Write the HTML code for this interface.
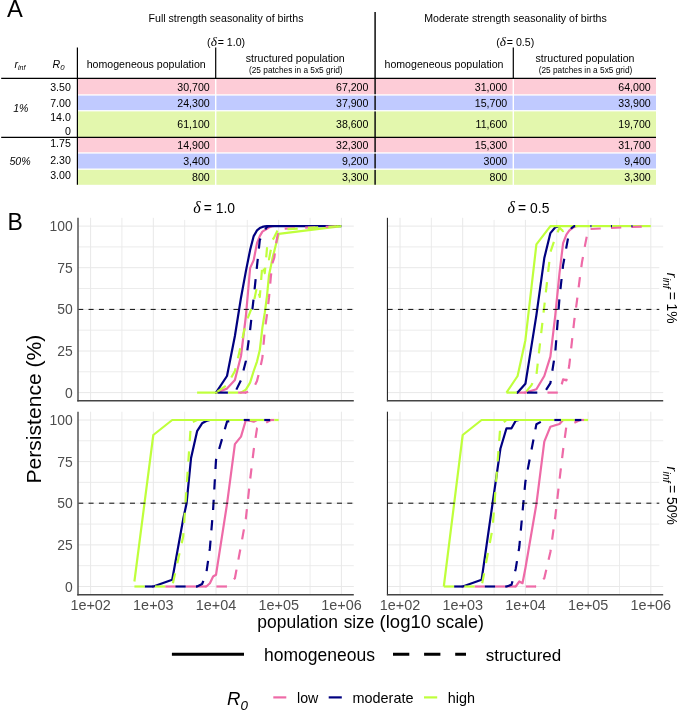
<!DOCTYPE html>
<html lang="en">
<head>
<meta charset="utf-8">
<title>Figure</title>
<style>
html,body{margin:0;padding:0;background:#fff;}
body{width:685px;height:714px;overflow:hidden;}
svg{display:block;font-family:"Liberation Sans", sans-serif;}
text{fill:#000;}
.h{font-size:10.6px;}
.n{font-size:10.6px;text-anchor:end;}
.tick{font-size:13.9px;fill:#4d4d4d;}
.grid line{stroke:#e8e8e8;stroke-width:1;}
.gridm line{stroke:#eaeaea;stroke-width:0.9;}
.c{fill:none;stroke-width:2.2;stroke-linejoin:round;}
.lo{stroke:#ee6aa7;}
.mo{stroke:#000080;}
.hi{stroke:#bfff3b;}
.d{stroke-dasharray:10.25 10.25;}
</style>
</head>
<body>
<svg width="685" height="714" viewBox="0 0 685 714">
<rect width="685" height="714" fill="#fff"/>

<g id="table">
<text x="7.1" y="16.7" font-size="23.7">A</text>
<rect x="77.4" y="78.4" width="578.6" height="15.9" fill="#fdccd7"/>
<rect x="77.4" y="95.6" width="578.6" height="14.5" fill="#c0caff"/>
<rect x="77.4" y="111.4" width="578.6" height="26.0" fill="#e3f7ad"/>
<rect x="77.4" y="137.4" width="578.6" height="14.9" fill="#fdccd7"/>
<rect x="77.4" y="153.6" width="578.6" height="14.9" fill="#c0caff"/>
<rect x="77.4" y="169.8" width="578.6" height="15.0" fill="#e3f7ad"/>
<rect x="215.0" y="78.4" width="1.4" height="106.6" fill="#fff"/>
<rect x="512.6" y="78.4" width="1.4" height="106.6" fill="#fff"/>
<g stroke="#000" stroke-width="1.2" fill="none">
<line x1="375.1" y1="12" x2="375.1" y2="184.8" stroke-width="1.55" stroke="#151515"/>
</g>
<rect x="373.5" y="94.3" width="3.2" height="1.3" fill="#fff"/>
<rect x="373.5" y="110.1" width="3.2" height="1.3" fill="#fff"/>
<rect x="373.5" y="152.3" width="3.2" height="1.3" fill="#fff"/>
<rect x="373.5" y="168.5" width="3.2" height="1.3" fill="#fff"/>
<g stroke="#000" stroke-width="1.2" fill="none">
<line x1="1.2" y1="78.4" x2="656" y2="78.4"/>
<line x1="1.2" y1="137.4" x2="656" y2="137.4"/>
<line x1="77.4" y1="47.5" x2="77.4" y2="184.8"/>
<line x1="215.7" y1="47.5" x2="215.7" y2="78.4"/>
<line x1="513.3" y1="47.5" x2="513.3" y2="78.4"/>
</g>
<text class="h" x="226" y="22.4" text-anchor="middle">Full strength seasonality of births</text>
<text class="h" x="515.5" y="22.4" text-anchor="middle">Moderate strength seasonality of births</text>
<text class="h" x="226.1" y="45.5" text-anchor="middle">(<tspan font-family="'Liberation Serif', serif" font-style="italic" font-size="13.4">δ</tspan><tspan dx="0.8">= 1.0)</tspan></text>
<text class="h" x="515.2" y="45.5" text-anchor="middle">(<tspan font-family="'Liberation Serif', serif" font-style="italic" font-size="13.4">δ</tspan><tspan dx="0.8">= 0.5)</tspan></text>
<text class="h" x="146.2" y="67.5" text-anchor="middle">homogeneous population</text>
<text class="h" x="444" y="67.5" text-anchor="middle">homogeneous population</text>
<text class="h" x="295.3" y="61.6" text-anchor="middle">structured population</text>
<text class="h" x="585" y="61.6" text-anchor="middle">structured population</text>
<text x="295.8" y="73.4" font-size="8.3" text-anchor="middle">(25 patches in a 5x5 grid)</text>
<text x="585.5" y="73.4" font-size="8.3" text-anchor="middle">(25 patches in a 5x5 grid)</text>
<text class="h" x="14.5" y="67.5" font-style="italic">r<tspan font-size="7" dy="2.2">inf</tspan></text>
<text class="h" x="52.5" y="67.5" font-style="italic">R<tspan font-size="7.8" dy="2.6">0</tspan></text>
<text class="h" x="20.8" y="111.7" text-anchor="middle" font-style="italic">1%</text>
<text class="h" x="20" y="165" text-anchor="middle" font-style="italic">50%</text>
<text class="n" x="70.8" y="90.8">3.50</text>
<text class="n" x="70.8" y="106.9">7.00</text>
<text class="n" x="70.8" y="121.4">14.0</text>
<text class="n" x="70.8" y="135.1">0</text>
<text class="n" x="70.8" y="147.3">1.75</text>
<text class="n" x="70.8" y="163.6">2.30</text>
<text class="n" x="70.8" y="179.4">3.00</text>
<text class="n" x="209.7" y="90.5">30,700</text>
<text class="n" x="368.4" y="90.5">67,200</text>
<text class="n" x="507.2" y="90.5">31,000</text>
<text class="n" x="650.7" y="90.5">64,000</text>
<text class="n" x="209.7" y="107.4">24,300</text>
<text class="n" x="368.4" y="107.4">37,900</text>
<text class="n" x="507.2" y="107.4">15,700</text>
<text class="n" x="650.7" y="107.4">33,900</text>
<text class="n" x="209.7" y="127.8">61,100</text>
<text class="n" x="368.4" y="127.8">38,600</text>
<text class="n" x="507.2" y="127.8">11,600</text>
<text class="n" x="650.7" y="127.8">19,700</text>
<text class="n" x="209.7" y="149.0">14,900</text>
<text class="n" x="368.4" y="149.0">32,300</text>
<text class="n" x="507.2" y="149.0">15,300</text>
<text class="n" x="650.7" y="149.0">31,700</text>
<text class="n" x="209.7" y="165.3">3,400</text>
<text class="n" x="368.4" y="165.3">9,200</text>
<text class="n" x="507.2" y="165.3">3000</text>
<text class="n" x="650.7" y="165.3">9,400</text>
<text class="n" x="209.7" y="181.1">800</text>
<text class="n" x="368.4" y="181.1">3,300</text>
<text class="n" x="507.2" y="181.1">800</text>
<text class="n" x="650.7" y="181.1">3,300</text>
</g>
<g id="plots">
<text x="7.5" y="230.4" font-size="23">B</text>
<g class="panel">
<g class="gridm">
<line x1="121.9" y1="217.8" x2="121.9" y2="400.8"/>
<line x1="184.7" y1="217.8" x2="184.7" y2="400.8"/>
<line x1="247.3" y1="217.8" x2="247.3" y2="400.8"/>
<line x1="310.1" y1="217.8" x2="310.1" y2="400.8"/>
<line x1="78.0" y1="371.8" x2="353.8" y2="371.8"/>
<line x1="78.0" y1="330.2" x2="353.8" y2="330.2"/>
<line x1="78.0" y1="288.5" x2="353.8" y2="288.5"/>
<line x1="78.0" y1="246.9" x2="353.8" y2="246.9"/>
</g>
<g class="grid">
<line x1="90.6" y1="217.8" x2="90.6" y2="400.8"/>
<line x1="153.3" y1="217.8" x2="153.3" y2="400.8"/>
<line x1="216.0" y1="217.8" x2="216.0" y2="400.8"/>
<line x1="278.7" y1="217.8" x2="278.7" y2="400.8"/>
<line x1="341.4" y1="217.8" x2="341.4" y2="400.8"/>
<line x1="78.0" y1="392.6" x2="353.8" y2="392.6"/>
<line x1="78.0" y1="351.0" x2="353.8" y2="351.0"/>
<line x1="78.0" y1="309.4" x2="353.8" y2="309.4"/>
<line x1="78.0" y1="267.7" x2="353.8" y2="267.7"/>
<line x1="78.0" y1="226.1" x2="353.8" y2="226.1"/>
</g>
<polyline class="c lo" points="215,392.6 216,392.6 227,388.6 234.9,380.1 241,356 245.9,316 250.1,268.1 253.7,260.1 257,243.1 259.8,236.1 262.4,231.6 264.8,230.1 267,228.8 269,227.4 270.9,226.8 272.6,226.1 273.6,226.1"/>
<polyline class="c mo" points="215,392.6 216,392.6 227,376 234.9,336 241,297.7 245.9,271.1 250.1,250.1 253.7,236.1 257,230.4 259.8,228.1 262.4,226.9 264.8,226.4 267,226.1 268,226.1"/>
<line class="c mo" x1="267" y1="226.1" x2="341.4" y2="226.1"/>
<polyline class="c hi" points="240,392.6 241,392.6 245.9,389.6 250.1,382.6 253.7,371 257,361.6 259.8,350.1 262.4,327.7 264.8,312.7 267,296 269,275.2 270.9,266.1 272.6,257.7 274.3,251.1 275.8,245.1 277.3,239.4 278.7,233.9 341.4,226.1"/>
<line class="c hi" x1="197.1" y1="392.6" x2="217.6" y2="392.6"/>
<line class="c hi" x1="227.9" y1="392.6" x2="238.1" y2="392.6"/>
<polyline class="c lo d" points="244.9,392.6 245.9,392.6 250.1,390.9 253.7,387.6 257,380.9 259.8,370.1 262.4,357.6 264.8,330.2 267,314.3 269,297.7 270.9,276.1 272.6,262.7 274.3,257.7 275.8,245.1 277.3,236.9 278.7,228.9 341.4,226.1" stroke-dashoffset="6.8"/>
<line class="c lo" x1="238.1" y1="392.6" x2="245.9" y2="392.6"/>
<polyline class="c mo d" points="233.9,392.6 234.9,392.6 241,380.1 245.9,361 250.1,330.2 253.7,297.7 257,266.1 259.8,240.1 262.4,234.4 264.8,230.1 267,226.9 269,226.1 270,226.1" stroke-dashoffset="16.2"/>
<line class="c mo" x1="217.6" y1="392.6" x2="227.9" y2="392.6"/>
<polyline class="c hi d" points="215,392.6 216,392.6 227,385.1 234.9,371 241,345.1 245.9,322.7 250.1,312.2 253.7,302.7 257,286.4 259.8,297 262.4,264.1 264.8,273.1 267,248.1 269,259.4 270.9,249.4 272.6,240.1 274.3,237.1 275.8,234.1 277.3,231.1 278.7,229.6 341.4,226.1" stroke-dashoffset="17.9"/>
<line x1="78.2" y1="309.4" x2="353.8" y2="309.4" stroke="#0a0a0a" stroke-width="1" stroke-dasharray="5.05 5.3"/>
<rect x="156.0" y="200" width="134" height="19.9" fill="#fff"/>
<line x1="78.0" y1="217.8" x2="78.0" y2="401.5" stroke="#555" stroke-width="1.5"/>
<line x1="77.3" y1="400.8" x2="353.8" y2="400.8" stroke="#444" stroke-width="1.5"/>
<text class="tick" x="72.8" y="397.6" text-anchor="end">0</text>
<text class="tick" x="72.8" y="356.0" text-anchor="end">25</text>
<text class="tick" x="72.8" y="314.4" text-anchor="end">50</text>
<text class="tick" x="72.8" y="272.7" text-anchor="end">75</text>
<text class="tick" x="72.8" y="231.1" text-anchor="end">100</text>
</g>
<g class="panel">
<g class="gridm">
<line x1="431.4" y1="217.8" x2="431.4" y2="400.8"/>
<line x1="494.1" y1="217.8" x2="494.1" y2="400.8"/>
<line x1="556.8" y1="217.8" x2="556.8" y2="400.8"/>
<line x1="619.5" y1="217.8" x2="619.5" y2="400.8"/>
<line x1="387.4" y1="371.8" x2="663.2" y2="371.8"/>
<line x1="387.4" y1="330.2" x2="663.2" y2="330.2"/>
<line x1="387.4" y1="288.5" x2="663.2" y2="288.5"/>
<line x1="387.4" y1="246.9" x2="663.2" y2="246.9"/>
</g>
<g class="grid">
<line x1="400.0" y1="217.8" x2="400.0" y2="400.8"/>
<line x1="462.7" y1="217.8" x2="462.7" y2="400.8"/>
<line x1="525.4" y1="217.8" x2="525.4" y2="400.8"/>
<line x1="588.1" y1="217.8" x2="588.1" y2="400.8"/>
<line x1="650.8" y1="217.8" x2="650.8" y2="400.8"/>
<line x1="387.4" y1="392.6" x2="663.2" y2="392.6"/>
<line x1="387.4" y1="351.0" x2="663.2" y2="351.0"/>
<line x1="387.4" y1="309.4" x2="663.2" y2="309.4"/>
<line x1="387.4" y1="267.7" x2="663.2" y2="267.7"/>
<line x1="387.4" y1="226.1" x2="663.2" y2="226.1"/>
</g>
<polyline class="c lo" points="524.4,392.6 525.4,392.6 536.4,389.3 544.3,376 550.4,356.6 555.3,315.2 559.5,273.1 563.1,243.1 566.4,234.6 569.2,230.6 571.8,228.4 574.2,227.1 576.4,226.1 577.4,226.1"/>
<line class="c lo" x1="517.6" y1="392.6" x2="525.4" y2="392.6"/>
<polyline class="c mo" points="516.6,392.6 517.6,392.6 525.4,383.8 536.4,315.2 544.3,258.1 550.4,233.1 555.3,227.3 559.5,226.1 560.5,226.1"/>
<line class="c mo" x1="516.8" y1="392.6" x2="517.6" y2="392.6"/>
<polyline class="c hi" points="506.5,392.6 517.6,376 525.4,340.2 536.4,244.4 550.4,226.1 551.4,226.1"/>
<line class="c hi" x1="550.4" y1="226.1" x2="590.4" y2="226.1"/>
<line class="c hi" x1="591.5" y1="226.1" x2="610.9" y2="226.1"/>
<line class="c hi" x1="612" y1="226.1" x2="631.4" y2="226.1"/>
<line class="c hi" x1="632.5" y1="226.1" x2="650.8" y2="226.1"/>
<polyline class="c lo d" points="558.5,392.6 559.5,392.6 563.1,379.4 566.4,380.4 569.2,366 571.8,342.7 574.2,321 576.4,305.2 578.4,289.4 580.3,274.4 582,262.1 583.7,253.1 585.2,244.4 586.7,236.9 588.1,229.1 650.8,226.1" stroke-dashoffset="11"/>
<line class="c lo" x1="547.5" y1="392.6" x2="557.8" y2="392.6"/>
<polyline class="c mo d" points="543.3,392.6 544.3,392.6 550.4,383.1 555.3,352.1 559.5,297.7 563.1,265.1 566.4,247.1 569.2,232.1 571.8,227.8 574.2,226.1 575.2,226.1" stroke-dashoffset="16.2"/>
<line class="c mo" x1="527" y1="392.6" x2="537.3" y2="392.6"/>
<line class="c mo" x1="590.4" y1="226.1" x2="591.5" y2="226.1"/>
<line class="c mo" x1="610.9" y1="226.1" x2="612" y2="226.1"/>
<line class="c mo" x1="631.4" y1="226.1" x2="632.5" y2="226.1"/>
<polyline class="c hi d" points="524.4,392.6 525.4,392.6 531.5,385.1 536.4,375.1 544.3,306 550.4,252.1 555.3,237.8 559.5,227.8 563.1,231.1 566.4,226.1 567.4,226.1" stroke-dashoffset="17.9"/>
<line class="c hi" x1="506.5" y1="392.6" x2="516.8" y2="392.6"/>
<line x1="387.59999999999997" y1="309.4" x2="663.2" y2="309.4" stroke="#0a0a0a" stroke-width="1" stroke-dasharray="5.05 5.3"/>
<rect x="659.3" y="256.3" width="20" height="126" fill="#fff"/>
<rect x="465.4" y="200" width="134" height="19.9" fill="#fff"/>
<line x1="387.4" y1="217.8" x2="387.4" y2="401.3" stroke="#111" stroke-width="1"/>
<line x1="386.9" y1="400.8" x2="663.2" y2="400.8" stroke="#444" stroke-width="1.5"/>
</g>
<g class="panel">
<g class="gridm">
<line x1="121.9" y1="411.7" x2="121.9" y2="594.7"/>
<line x1="184.7" y1="411.7" x2="184.7" y2="594.7"/>
<line x1="247.3" y1="411.7" x2="247.3" y2="594.7"/>
<line x1="310.1" y1="411.7" x2="310.1" y2="594.7"/>
<line x1="78.0" y1="565.7" x2="353.8" y2="565.7"/>
<line x1="78.0" y1="524.1" x2="353.8" y2="524.1"/>
<line x1="78.0" y1="482.4" x2="353.8" y2="482.4"/>
<line x1="78.0" y1="440.8" x2="353.8" y2="440.8"/>
</g>
<g class="grid">
<line x1="90.6" y1="411.7" x2="90.6" y2="594.7"/>
<line x1="153.3" y1="411.7" x2="153.3" y2="594.7"/>
<line x1="216.0" y1="411.7" x2="216.0" y2="594.7"/>
<line x1="278.7" y1="411.7" x2="278.7" y2="594.7"/>
<line x1="341.4" y1="411.7" x2="341.4" y2="594.7"/>
<line x1="78.0" y1="586.5" x2="353.8" y2="586.5"/>
<line x1="78.0" y1="544.9" x2="353.8" y2="544.9"/>
<line x1="78.0" y1="503.2" x2="353.8" y2="503.2"/>
<line x1="78.0" y1="461.6" x2="353.8" y2="461.6"/>
<line x1="78.0" y1="420.0" x2="353.8" y2="420.0"/>
</g>
<polyline class="c lo" points="205.3,586.5 206.3,586.5 209.9,583.2 213.1,576.5 216,574.8 227,504.1 234.9,444.1 241,436.6 245.9,420 250.1,420.8 253.7,421.7 257,420 258,420"/>
<line class="c lo" x1="153.3" y1="586.5" x2="154.9" y2="586.5"/>
<line class="c lo" x1="165.2" y1="586.5" x2="175.4" y2="586.5"/>
<line class="c lo" x1="185.7" y1="586.5" x2="195.9" y2="586.5"/>
<line class="c lo" x1="197.1" y1="586.5" x2="206.3" y2="586.5"/>
<polyline class="c mo" points="152.3,586.5 153.3,586.5 172.2,579.8 183.2,519.1 186.6,503.2 191,458.3 197.1,431.2 202.1,423.3 206.3,421 209.9,420 210.9,420"/>
<line class="c mo" x1="144.7" y1="586.5" x2="153.3" y2="586.5"/>
<polyline class="c hi" points="134.4,581.5 153.3,435 172.2,420 173.2,420"/>
<line class="c hi" x1="172.2" y1="420" x2="243.7" y2="420"/>
<line class="c hi" x1="249.7" y1="420" x2="264.2" y2="420"/>
<line class="c hi" x1="270.2" y1="420" x2="270.9" y2="420"/>
<polyline class="c lo d" points="226,586.5 227,586.5 234.9,578.2 241,545.7 245.9,518.2 250.1,479.9 253.7,450 257,428.3 259.8,426.2 270.9,420 271.9,420" stroke-dashoffset="9.6"/>
<line class="c lo" x1="216.4" y1="586.5" x2="226.7" y2="586.5"/>
<line class="c lo" x1="270.9" y1="420" x2="274.4" y2="420"/>
<polyline class="c mo d" points="196.1,586.5 197.1,586.5 202.1,584 206.3,573.2 209.9,548.2 213.1,509.9 216,460 227,421.7 234.9,420 235.9,420" stroke-dashoffset="0.2"/>
<line class="c mo" x1="175.4" y1="586.5" x2="185.7" y2="586.5"/>
<line class="c mo" x1="195.9" y1="586.5" x2="197.1" y2="586.5"/>
<line class="c mo" x1="243.7" y1="420" x2="249.7" y2="420"/>
<line class="c mo" x1="264.2" y1="420" x2="270.2" y2="420"/>
<polyline class="c hi d" points="171.2,586.5 172.2,586.5 183.2,536.5 191,422.7 197.1,420 198.1,420" stroke-dashoffset="16.2"/>
<line class="c hi" x1="134.4" y1="586.5" x2="144.7" y2="586.5"/>
<line class="c hi" x1="154.9" y1="586.5" x2="165.2" y2="586.5"/>
<line class="c hi" x1="274.4" y1="420" x2="278.7" y2="420"/>
<line x1="78.2" y1="503.2" x2="353.8" y2="503.2" stroke="#0a0a0a" stroke-width="1" stroke-dasharray="5.05 5.3"/>
<line x1="78.0" y1="411.7" x2="78.0" y2="595.4000000000001" stroke="#555" stroke-width="1.5"/>
<line x1="77.3" y1="594.7" x2="353.8" y2="594.7" stroke="#444" stroke-width="1.5"/>
<text class="tick" x="72.8" y="591.5" text-anchor="end">0</text>
<text class="tick" x="72.8" y="549.9" text-anchor="end">25</text>
<text class="tick" x="72.8" y="508.2" text-anchor="end">50</text>
<text class="tick" x="72.8" y="466.6" text-anchor="end">75</text>
<text class="tick" x="72.8" y="425.0" text-anchor="end">100</text>
<text class="tick" x="70.4" y="609.9" textLength="40.5" lengthAdjust="spacingAndGlyphs">1e+02</text>
<text class="tick" x="133.1" y="609.9" textLength="40.5" lengthAdjust="spacingAndGlyphs">1e+03</text>
<text class="tick" x="195.8" y="609.9" textLength="40.5" lengthAdjust="spacingAndGlyphs">1e+04</text>
<text class="tick" x="258.5" y="609.9" textLength="40.5" lengthAdjust="spacingAndGlyphs">1e+05</text>
<text class="tick" x="321.2" y="609.9" textLength="40.5" lengthAdjust="spacingAndGlyphs">1e+06</text>
</g>
<g class="panel">
<g class="gridm">
<line x1="431.4" y1="411.7" x2="431.4" y2="594.7"/>
<line x1="494.1" y1="411.7" x2="494.1" y2="594.7"/>
<line x1="556.8" y1="411.7" x2="556.8" y2="594.7"/>
<line x1="619.5" y1="411.7" x2="619.5" y2="594.7"/>
<line x1="387.4" y1="565.7" x2="663.2" y2="565.7"/>
<line x1="387.4" y1="524.1" x2="663.2" y2="524.1"/>
<line x1="387.4" y1="482.4" x2="663.2" y2="482.4"/>
<line x1="387.4" y1="440.8" x2="663.2" y2="440.8"/>
</g>
<g class="grid">
<line x1="400.0" y1="411.7" x2="400.0" y2="594.7"/>
<line x1="462.7" y1="411.7" x2="462.7" y2="594.7"/>
<line x1="525.4" y1="411.7" x2="525.4" y2="594.7"/>
<line x1="588.1" y1="411.7" x2="588.1" y2="594.7"/>
<line x1="650.8" y1="411.7" x2="650.8" y2="594.7"/>
<line x1="387.4" y1="586.5" x2="663.2" y2="586.5"/>
<line x1="387.4" y1="544.9" x2="663.2" y2="544.9"/>
<line x1="387.4" y1="503.2" x2="663.2" y2="503.2"/>
<line x1="387.4" y1="461.6" x2="663.2" y2="461.6"/>
<line x1="387.4" y1="420.0" x2="663.2" y2="420.0"/>
</g>
<polyline class="c lo" points="514.7,586.5 515.7,586.5 519.3,581.5 522.5,583.2 525.4,568.2 536.4,504.1 544.3,441.6 550.4,426.7 555.3,425.3 559.5,424 563.1,420 564.1,420"/>
<line class="c lo" x1="462.7" y1="586.5" x2="464.3" y2="586.5"/>
<line class="c lo" x1="474.6" y1="586.5" x2="484.8" y2="586.5"/>
<line class="c lo" x1="495.1" y1="586.5" x2="505.3" y2="586.5"/>
<line class="c lo" x1="506.5" y1="586.5" x2="515.7" y2="586.5"/>
<polyline class="c mo" points="461.7,586.5 462.7,586.5 481.6,579.8 492.6,503.2 500.4,448.8 506.5,428.3 511.5,428.3 515.7,420.7 519.3,420 520.3,420"/>
<line class="c mo" x1="454.1" y1="586.5" x2="462.7" y2="586.5"/>
<polyline class="c hi" points="443.8,586.5 462.7,435 481.6,420 482.6,420"/>
<line class="c hi" x1="481.6" y1="420" x2="554.3" y2="420"/>
<line class="c hi" x1="560.9" y1="420" x2="574.8" y2="420"/>
<line class="c hi" x1="584" y1="420" x2="588.1" y2="420"/>
<polyline class="c lo d" points="535.4,586.5 536.4,586.5 544.3,578.2 550.4,552 555.3,516.6 559.5,479.9 563.1,450 566.4,426.2 569.2,425 580.3,420 581.3,420" stroke-dashoffset="9.6"/>
<line class="c lo" x1="525.8" y1="586.5" x2="536.1" y2="586.5"/>
<line class="c lo" x1="581.4" y1="420" x2="584" y2="420"/>
<polyline class="c mo d" points="505.5,586.5 506.5,586.5 511.5,584.8 515.7,569 519.3,547 522.5,512.1 525.4,481.6 536.4,424.2 544.3,420 545.3,420" stroke-dashoffset="0.2"/>
<line class="c mo" x1="484.8" y1="586.5" x2="495.1" y2="586.5"/>
<line class="c mo" x1="505.3" y1="586.5" x2="506.5" y2="586.5"/>
<line class="c mo" x1="554.3" y1="420" x2="560.9" y2="420"/>
<line class="c mo" x1="574.8" y1="420" x2="581.4" y2="420"/>
<polyline class="c hi d" points="480.6,586.5 481.6,586.5 492.6,528.2 500.4,425 506.5,420 507.5,420" stroke-dashoffset="16.2"/>
<line class="c hi" x1="443.8" y1="586.5" x2="454.1" y2="586.5"/>
<line class="c hi" x1="464.3" y1="586.5" x2="474.6" y2="586.5"/>
<line x1="387.59999999999997" y1="503.2" x2="663.2" y2="503.2" stroke="#0a0a0a" stroke-width="1" stroke-dasharray="5.05 5.3"/>
<rect x="659.3" y="450.2" width="20" height="126" fill="#fff"/>
<line x1="387.4" y1="411.7" x2="387.4" y2="595.2" stroke="#111" stroke-width="1"/>
<line x1="386.9" y1="594.7" x2="663.2" y2="594.7" stroke="#444" stroke-width="1.5"/>
<text class="tick" x="379.8" y="609.9" textLength="40.5" lengthAdjust="spacingAndGlyphs">1e+02</text>
<text class="tick" x="442.5" y="609.9" textLength="40.5" lengthAdjust="spacingAndGlyphs">1e+03</text>
<text class="tick" x="505.2" y="609.9" textLength="40.5" lengthAdjust="spacingAndGlyphs">1e+04</text>
<text class="tick" x="567.9" y="609.9" textLength="40.5" lengthAdjust="spacingAndGlyphs">1e+05</text>
<text class="tick" x="630.6" y="609.9" textLength="40.5" lengthAdjust="spacingAndGlyphs">1e+06</text>
</g>
<text x="193.2" y="212.5" font-family="'Liberation Serif', serif" font-style="italic" font-size="16">δ</text>
<text x="203.7" y="212.5" font-size="13.9">= 1.0</text>
<text x="507.6" y="212.5" font-family="'Liberation Serif', serif" font-style="italic" font-size="16">δ</text>
<text x="518.1" y="212.5" font-size="13.9">= 0.5</text>
<g transform="translate(666.9,0) rotate(90)" font-size="13.9"><text x="272.7" y="0" font-style="italic">r</text><text x="277.7" y="3.9" font-style="italic" font-size="10.4">inf</text><text x="323.7" y="0" text-anchor="end">= 1%</text></g>
<g transform="translate(666.9,0) rotate(90)" font-size="13.9"><text x="466.6" y="0" font-style="italic">r</text><text x="471.6" y="3.9" font-style="italic" font-size="10.4">inf</text><text x="524.9" y="0" text-anchor="end">= 50%</text></g>
<text y="628.4" font-size="17.9"><tspan x="257.3" textLength="80.6" lengthAdjust="spacingAndGlyphs">population</tspan> <tspan x="343.7" textLength="30.6" lengthAdjust="spacingAndGlyphs">size</tspan> <tspan x="379.6" textLength="51.4" lengthAdjust="spacingAndGlyphs">(log10</tspan> <tspan x="436.3" textLength="47.7" lengthAdjust="spacingAndGlyphs">scale)</tspan></text>
<text transform="translate(40.5,409.1) rotate(-90)" font-size="21.1" text-anchor="middle">Persistence (%)</text>
</g>
<g id="legend">
<line x1="171.9" y1="654.2" x2="244" y2="654.2" stroke="#000" stroke-width="2.9"/>
<text x="264" y="660.7" font-size="17.5">homogeneous</text>
<line x1="393" y1="654.2" x2="466" y2="654.2" stroke="#000" stroke-width="2.9" stroke-dasharray="16.3 14.8"/>
<text x="485.7" y="660.7" font-size="17.0">structured</text>
<text x="227" y="705.3" font-size="18.6" font-style="italic">R<tspan font-size="13.4" dy="4.2">0</tspan></text>
<line x1="273.3" y1="697.4" x2="286.3" y2="697.4" class="c lo"/>
<text x="297" y="703.1" font-size="14.2">low</text>
<line x1="328.7" y1="697.4" x2="341.8" y2="697.4" class="c mo"/>
<text x="352.5" y="703.1" font-size="14.2" textLength="61" lengthAdjust="spacingAndGlyphs">moderate</text>
<line x1="424" y1="697.4" x2="437.2" y2="697.4" class="c hi"/>
<text x="447.8" y="703.1" font-size="14.4">high</text>
</g>
</svg>
</body>
</html>
